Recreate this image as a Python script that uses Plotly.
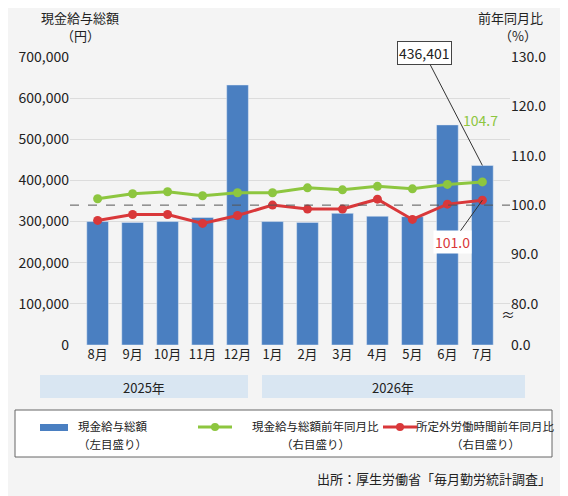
import plotly.graph_objects as go

months = ["8月","9月","10月","11月","12月","1月","2月","3月","4月","5月","6月","7月"]
pay = [300000,298000,300000,310000,632000,300000,298000,320000,313000,312000,535000,436401]
pay_yoy = [101.3,102.3,102.7,101.9,102.5,102.5,103.5,103.1,103.8,103.3,104.2,104.7]
ot_yoy = [96.9,98.1,98.1,96.3,97.9,100.0,99.2,99.2,101.2,97.1,100.2,101.0]
years = ["2025年","2026年"]
left_ticks = [0,100000,200000,300000,400000,500000,600000,700000]
right_ticks = [80,90,100,110,120,130]
legend_names = [("現金給与総額", "（左目盛り）"), ("現金給与総額前年同月比", "（右目盛り）"),
                ("所定外労働時間前年同月比", "（右目盛り）")]

OFF = 8
W, H = 568-OFF, 496-OFF
L, R, T, B = 70-OFF, 58, 57-OFF, 159-OFF
PW, PH = W-L-R, H-T-B
def px(x): return (x-OFF-L)/PW
def py(y): return (H-B-(y-OFF))/PH

fig = go.Figure()
fig.add_bar(x=months, y=pay, marker_color="#4a7fc1", width=0.62)
fig.add_scatter(x=months, y=pay_yoy, yaxis="y2", mode="lines+markers",
                line=dict(color="#8dc63f", width=3), marker=dict(size=9, color="#8dc63f"))
fig.add_scatter(x=months, y=ot_yoy, yaxis="y2", mode="lines+markers",
                line=dict(color="#d9383a", width=3), marker=dict(size=9, color="#d9383a"))

low = 80 - 40/4.8
fig.update_layout(
    width=W, height=H, margin=dict(l=L, r=R, t=T, b=B),
    paper_bgcolor="#f4f4f4", plot_bgcolor="rgba(0,0,0,0)",
    font=dict(family="Noto Sans CJK JP", size=13, color="#222"),
    bargap=0.38, showlegend=False,
    xaxis=dict(showgrid=False, ticks="", tickfont=dict(size=13), automargin=False),
    yaxis=dict(range=[0, 700000], tickvals=left_ticks, tickformat=",", showgrid=True,
               gridcolor="#dcdcdc", tickfont=dict(size=14), zeroline=False, automargin=False),
    yaxis2=dict(overlaying="y", side="right", range=[low, 130],
                tickvals=[low]+right_ticks, ticktext=["0.0"]+[f"{v:.1f}" for v in right_ticks],
                showgrid=False, tickfont=dict(size=14), zeroline=False, automargin=False),
)
def note(x, y, text, size=13, **kw):
    fig.add_annotation(xref="paper", yref="paper", x=px(x), y=py(y), text=text, showarrow=False,
                       xanchor=kw.pop("xanchor", "center"), yanchor="middle", font=dict(size=size), **kw)

fig.add_shape(type="line", xref="paper", x0=0, x1=1, yref="y2", y0=100, y1=100,
              line=dict(color="#555", width=1, dash="dash"))
# year bands
fig.add_shape(type="rect", xref="paper", x0=px(40), x1=px(248), yref="paper", y0=py(398), y1=py(375),
              fillcolor="#d9e6f2", line_width=0)
fig.add_shape(type="rect", xref="paper", x0=px(262), x1=px(525), yref="paper", y0=py(398), y1=py(375),
              fillcolor="#d9e6f2", line_width=0)
note(144, 387, years[0])
note(393, 387, years[1])
# legend
fig.add_shape(type="rect", xref="paper", yref="paper", x0=px(15), x1=px(552), y0=py(457), y1=py(410),
              fillcolor="white", line=dict(color="#666", width=1))
fig.add_shape(type="rect", xref="paper", yref="paper", x0=px(40), x1=px(68), y0=py(431), y1=py(424),
              fillcolor="#4a7fc1", line_width=0)
for x0, c in [(198, "#8dc63f"), (383, "#d9383a")]:
    fig.add_shape(type="line", xref="paper", yref="paper", x0=px(x0), x1=px(x0+34), y0=py(427), y1=py(427),
                  line=dict(color=c, width=3))
    fig.add_shape(type="circle", xref="paper", yref="paper", x0=px(x0+13), x1=px(x0+21), y0=py(431), y1=py(423),
                  fillcolor=c, line_width=0)
for xc, (t1, t2) in zip([112, 315, 485], legend_names):
    note(xc, 426, t1, 11.5)
    note(xc, 444, t2, 11.5)
fig.add_annotation(x=11, y=pay[11], text=f"{pay[11]:,}", ax=-58, ay=-112, bgcolor="white",
                   bordercolor="#444", borderwidth=1, showarrow=True, arrowhead=0, arrowcolor="#333",
                   font=dict(size=14))
fig.add_annotation(x=11, y=pay_yoy[11], yref="y2", text=f"{pay_yoy[11]:.1f}", showarrow=False,
                   xshift=-2, yshift=62, font=dict(size=14, color="#8dc63f"))
fig.add_annotation(x=11, y=ot_yoy[11], yref="y2", text=f"{ot_yoy[11]:.1f}", ax=-30, ay=42,
                   bgcolor="white", showarrow=True, arrowhead=0, arrowcolor="#333",
                   font=dict(size=14, color="#d9383a"))
note(80, 18, "現金給与総額")
note(80, 36, "（円）")
note(510, 18, "前年同月比")
note(518, 36, "（%）")
note(508, 314, "≈", 14)
note(553, 478, "出所：厚生労働省「毎月勤労統計調査」", xanchor="right")
fig.write_html("out.html")
